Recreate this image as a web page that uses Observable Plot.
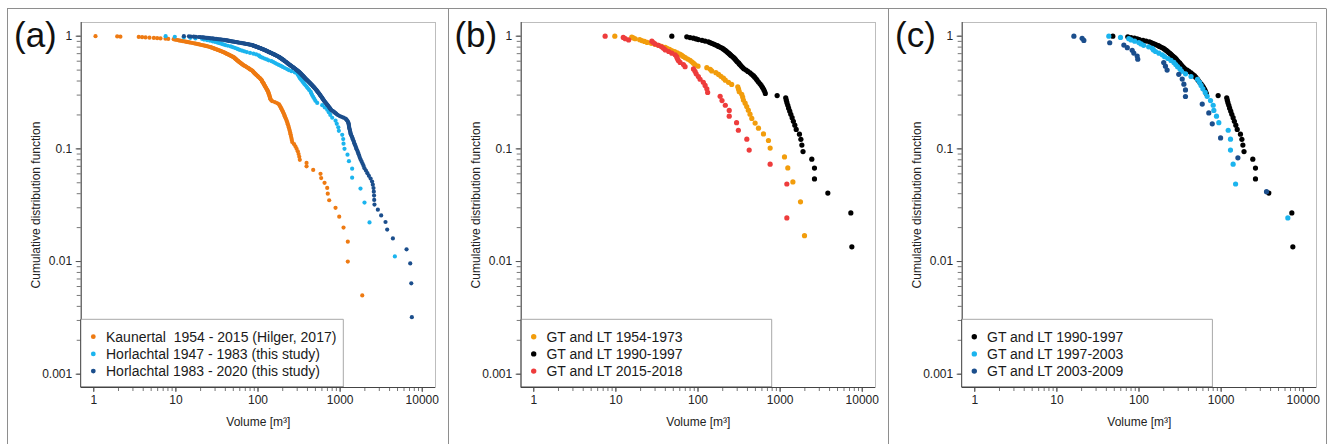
<!DOCTYPE html>
<html><head><meta charset="utf-8">
<script src="https://cdn.jsdelivr.net/npm/d3@7"></script>
<script src="https://cdn.jsdelivr.net/npm/@observablehq/plot@0.6"></script>
<style>
body{margin:0;background:#fff;}
#fig{position:relative;width:1330px;height:444px;overflow:hidden;background:#fff;font-family:"Liberation Sans",Arial,sans-serif;}
.panel{position:absolute;top:0;width:440px;height:444px;}
#overlay{position:absolute;left:0;top:0;}
</style></head>
<body><div id="fig"></div>
<script>
// ---- data: volumes [m³], sorted from largest to smallest ----
const kaunertal = [1860,1240,1240,1100,975,879,736,707,696,646,588,577,470,390,390,323,
318,312,305,295,286,275,261,258,255,252,249,246,243,240,237,234,231,228,225,222,218,215,212,209,206,203,200,197,194,191,188,185,182,179,
170,160,149,145,142,
141,140,139,138,137,136,135,134,133,132,130,129,127,126,124,123,
122,120,119,118,117,116,114,113,112,111,110,108,107,
105,103,101,100,98,96.5,95,93.5,92,90.5,89,88,87,86,85,
83,81,79.5,78,76.5,75,73.5,72,70.5,69,67,
66,65,64,63,62,61,60,59,58,57.5,57,56,55,54.5,54,53,52.5,52,51.3,50.7,
49.7,48.7,47.7,46.8,45.8,44.9,44,43.1,42.2,41.4,40.6,39.8,39,38.3,
37.4,36.5,35.7,34.9,34.1,33.3,32.5,31.8,31,30.3,29.6,28.9,28.3,27.6,27,26.4,
25.5,24.7,23.9,23.1,22.3,21.5,20.7,20,19.3,18.6,18,17.3,16.7,16,15.3,14.7,14.1,
13.6,13.1,12.6,12.1,11.6,11.2,10.8,10.4,10,9.7,9.4,
8.07,7.47,6.5,5.92,5.39,4.77,4.27,3.88,3.53,2.11,1.93,1.05];

const horlach4783 = [4640,2280,1980,1770,1400,1400,1280,1230,1130,1100,
1090,1060,965,950,910,880,801,760,728,696,
650,605,526,500,485,470,455,445,437,420,
405,392,379,365,355,345,335,325,318,314,
305,300,280,255,237,225,212,200,190,179,
170,162,154,146,135,128,120,113,107,104,
102,95,88,80,73,68,64,60,57,55,
52,49,46.5,43,40,38,36,34,32,30,
28,26,24,22,20.9,17.3,15,12.5,9.7,7.5];

const horlach8320 = [7470,7350,7140,6440,4390,3740,3570,3160,2880,2620,
2600,2590,2570,2550,2500,2450,2350,2240,2150,2060,
1980,1930,1880,1830,1780,1740,1710,1680,1650,1620,
1590,1560,1540,1510,1490,1470,1450,1430,1410,1390,
1370,1350,1340,1330,1320,1310,1300,1290,1285,1280,
1275,1270,1260,1250,1230,1210,1190,1160,1100,1040,
990,950,920,895,870,850,825,805,779,768,
757,746,736,725,715,705,695,685,676,666,
657,648,640,633,626,620,613,607,600,594,
588,581,575,569,563,557,551,546,540,534,
529,523,518,512,507,502,496,491,485,480,
474,469,464,458,453,448,443,438,433,428,
424,419,414,410,405,400,396,392,387,383,
379,375,372,368,365,361,358,355,351,348,
345,341,338,335,332,329,326,323,320,317,
314,310,307,303,300,297,293,290,287,284,
280,277,274,271,268,265,262,259,256,253,
251,248,245,242,240,237,235,233,230,228,
226,224,222,220,218,215,213,211,209,207,
205,203,201,199,197,195,193,191,189,187,
185,184,182,180,179,177,174,172,170,168,
165,163,161,159,157,155,153,151,149,147,
145,143,141,139,137,136,134,132,130,129,
127,126,124,123,121,119,118,116,114,113,
111,110,108,107,105,104,102,101,99,98,
96,95,94,92,91,90,88,87,86,85,
83,81,79,77,75,73,71,69,67,65,
63.5,62,60,58,56.5,55,53.5,52,50.5,49,
48,46.5,45,44,43,42,41,40,38.5,37,
35.8,34.5,33.2,32,30.9,29.8,28.7,27.7,26.5,25.5,
24.5,23.5,22.5,21.5,20.9,19.8,19,17.5,16.5,15.2,14.4,12.5];

const gt5473 = [1980,1770,1430,1240,1130,756,721,627,545,496,452,430,410,392,375,357,350,341,318,312,305,257,235,215,204,190,178,165,147,141,128,100,92,88,84,80,75,70,66,63,60,56,52,48,45,42,39.8,36,33,30,27,24,22.3,20.7,19.5,17.2,16.3,15.6,9.7];

const gt9097 = [7470,7260,3810,2620,2620,2430,1900,1840,1790,1720,
1570,1510,1450,1400,1350,1310,1270,1240,1210,1190,
1170,920,660,645,630,610,590,569,545,525,
510,490,472,450,430,405,385,362,350,338,
328,318,312,300,292,285,278,270,260,252,
245,238,230,224,217,210,203,196,187,178,
172,162,155,147,140,134,122,112,101,95,
88,80,73,48];

const gt1518 = [1207,1207,756,420,393,310,295,240,240,215,196,186,131,128,122,116,106,101,95,92,88,69.6,66.5,60.5,57.6,56,55,52.7,48,44,40,38,36,33,30,28.5,27.4,14.3,13,12.3,7.4];

const gt9703 = [6490,1500,1400,1300,1300,1220,937,878,815,800,743,676,640,600,570,545,515,430,369,330,315,295,280,266,245,225,205,192,175,159,150,145,131,114,106,99.5,88.6,80,75,59.5,42.9];

const gt0309 = [3570,1600,985,780,708,589,368,368,352,336,305,220,210,200,96.6,95,86.4,82.6,72,65.4,44,21.3,20.3,16.1];

// ---- labels ----
const panelTags = ["(a)", "(b)", "(c)"];
const legendA = ["Kaunertal  1954 - 2015 (Hilger, 2017)", "Horlachtal 1947 - 1983 (this study)", "Horlachtal 1983 - 2020 (this study)"];
const legendB = ["GT and LT 1954-1973", "GT and LT 1990-1997", "GT and LT 2015-2018"];
const legendC = ["GT and LT 1990-1997", "GT and LT 1997-2003", "GT and LT 2003-2009"];
const xMajor = [1, 10, 100, 1000, 10000];
const xMajorLabels = ["1", "10", "100", "1000", "10000"];
const yMajor = [1, 0.1, 0.01, 0.001];
const yMajorLabels = ["1", "0.1", "0.01", "0.001"];
const xTitle = "Volume [m³]";
const yTitle = "Cumulative distribution function";

// ---- styling / layout ----
const C = {orange:"#EE7A12", sky:"#1BB4EE", navy:"#1B4E8C", amber:"#F29D0C", black:"#000000", red:"#EE3C3C"};
const panels = [
  {tag: panelTags[0], r: 2.1, lr: 2.4, legendW: 262.6, series: [
    {name: legendA[0], values: kaunertal, color: C.orange},
    {name: legendA[1], values: horlach4783, color: C.sky},
    {name: legendA[2], values: horlach8320, color: C.navy}]},
  {tag: panelTags[1], r: 2.6, lr: 2.7, legendW: 250.6, series: [
    {name: legendB[0], values: gt5473, color: C.amber},
    {name: legendB[1], values: gt9097, color: C.black},
    {name: legendB[2], values: gt1518, color: C.red}]},
  {tag: panelTags[2], r: 2.6, lr: 2.7, legendW: 250.7, series: [
    {name: legendC[0], values: gt9097, color: C.black},
    {name: legendC[1], values: gt9703, color: C.sky},
    {name: legendC[2], values: gt0309, color: C.navy}]}
];
const W = 440, H = 444, ML = 80.7, MR = 5, MT = 22, MB = 57;
const xDomain = [0.703, 14500];
const yDomain = [0.000762, 1.323];
const panelLeft = [0, 440.4, 881];
const FONT = "'Liberation Sans', Arial, sans-serif";

// empirical exceedance distribution: share of events with volume >= v
function ecdf(vols){ const n = vols.length; return vols.map((v, i) => ({v, p: (i + 1) / n})); }

const xMinor = d3.scaleLog().domain([xMajor[0], xMajor[xMajor.length-1]]).ticks();
const yMinor = d3.scaleLog().domain([yMajor[yMajor.length-1], yMajor[0]]).ticks();

const fig = document.getElementById("fig");

panels.forEach((pn, idx) => {
  const chart = Plot.plot({
    width: W, height: H, marginLeft: ML, marginRight: MR, marginTop: MT, marginBottom: MB,
    x: {type: "log", domain: xDomain},
    y: {type: "log", domain: yDomain},
    style: {fontFamily: FONT, fontSize: "12px", background: "transparent", color: "#222", overflow: "visible"},
    marks: [
      Plot.frame({stroke: "#bdbdbd"}),
      Plot.axisX({ticks: xMinor, tickSize: 4, tickFormat: () => "", stroke: "#777", label: null}),
      Plot.axisX({ticks: xMajor, tickSize: 5, tickPadding: 3, stroke: "#555", fill: "#222",
        tickFormat: d => xMajorLabels[xMajor.indexOf(d)], label: xTitle, labelArrow: "none", labelAnchor: "center", labelOffset: 38, fontSize: 12}),
      Plot.axisY({ticks: yMinor, tickSize: 4, tickFormat: () => "", stroke: "#777", label: null}),
      Plot.axisY({ticks: yMajor, tickSize: 5, tickPadding: 4, stroke: "#555", fill: "#222",
        tickFormat: d => yMajorLabels[yMajor.indexOf(d)], label: yTitle, labelArrow: "none", labelAnchor: "center", labelOffset: 50, fontSize: 12}),
      Plot.ruleX([xDomain[0]], {stroke: "#444"}),
      Plot.ruleY([yDomain[0]], {stroke: "#444"}),
      ...pn.series.map(s => Plot.dot(ecdf(s.values), {x: "v", y: "p", r: pn.r, fill: s.color, stroke: "none"}))
    ]
  });
  const wrap = document.createElement("div");
  wrap.className = "panel";
  wrap.style.left = panelLeft[idx] + "px";
  wrap.appendChild(chart);
  fig.appendChild(wrap);
});

// ---- overlay: figure borders, panel tags, legends ----
const ns = "http://www.w3.org/2000/svg";
const ov = document.createElementNS(ns, "svg");
ov.setAttribute("id", "overlay");
ov.setAttribute("width", 1330); ov.setAttribute("height", 444);
function el(tag, attrs, text){ const e = document.createElementNS(ns, tag); for (const k in attrs) e.setAttribute(k, attrs[k]); if (text != null) e.textContent = text; ov.appendChild(e); return e; }
const border = "#8e8e8e";
el("line", {x1: 7, y1: 8.5, x2: 1326, y2: 8.5, stroke: border});
[7, 448, 888, 1326].forEach(x => el("line", {x1: x + 0.5, y1: 8.5, x2: x + 0.5, y2: 444, stroke: border}));
panels.forEach((pn, idx) => {
  const ox = panelLeft[idx];
  el("text", {x: ox + 14, y: 47, "font-family": FONT, "font-size": 35, fill: "#111"}, pn.tag);
  const bx = ox + ML, by = 319.3, bw = pn.legendW, bh = H - MB - by;
  el("rect", {x: bx, y: by, width: bw, height: bh, fill: "#fff", stroke: "none"});
  el("polyline", {points: `${bx},${by} ${bx + bw},${by} ${bx + bw},${by + bh}`, fill: "none", stroke: "#a8a8a8"});
  el("line", {x1: bx, y1: by, x2: bx, y2: by + bh, stroke: "#444"});
  el("line", {x1: bx, y1: by + bh, x2: bx + bw, y2: by + bh, stroke: "#444"});
  pn.series.forEach((s, i) => {
    const cy = by + 17.4 + i * 17.2;
    el("circle", {cx: bx + 12.6, cy, r: pn.lr, fill: s.color});
    el("text", {x: bx + 25.3, y: cy + 5, "font-family": FONT, "font-size": 14, fill: "#1a1a1a", style: "white-space:pre"}, s.name);
  });
});
fig.appendChild(ov);
</script>
</body></html>
